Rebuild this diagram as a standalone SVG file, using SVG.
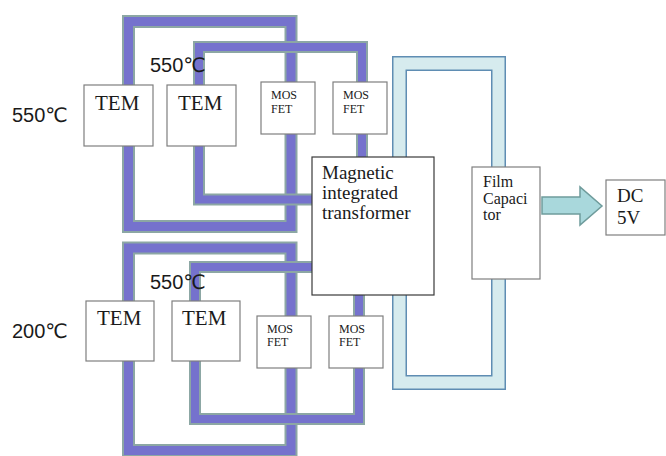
<svg xmlns="http://www.w3.org/2000/svg" width="666" height="456" viewBox="0 0 666 456">
<style>
.o{fill:none;stroke:#8ca7a4;stroke-width:13}
.p{fill:none;stroke:#7572cd;stroke-width:9}
.bo{fill:none;stroke:#5f8db3;stroke-width:15}
.bi{fill:none;stroke:#d6ebee;stroke-width:12}
.box{fill:#fff;stroke:#7f7f7f;stroke-width:1.2}
.dark{fill:#fff;stroke:#3a3a3a;stroke-width:1.2}
.s{font-family:"Liberation Serif","Times New Roman",serif;fill:#1a1a1a}
.t{font-family:"Liberation Sans","DejaVu Sans","Noto Sans CJK JP",sans-serif;font-size:20px;fill:#1a1a1a}
.tem{font-size:21px}
.mos{font-size:12px}
.big{font-size:19px}
.fc{font-size:16px}
</style>
<rect width="666" height="456" fill="#fff"/>
<g id="connectors">
<path class="o" d="M128.5,21.5H291V226.5H128.5Z"/>
<path class="p" d="M128.5,21.5H291V226.5H128.5Z"/>
<path class="o" style="stroke-width:12" d="M362,157V47H199V199.5H312"/>
<path class="p" style="stroke-width:8" d="M362,157V47H199V199.5H312"/>
<path class="o" d="M128.5,248H291V450.5H128.5Z"/>
<path class="p" d="M128.5,248H291V450.5H128.5Z"/>
<path class="o" style="stroke-width:12" d="M312,267H195V419H359V295"/>
<path class="p" style="stroke-width:8" d="M312,267H195V419H359V295"/>
<path class="bo" d="M399.5,157V63.5H498.5V167"/>
<path class="bi" d="M399.5,157V63.5H498.5V167"/>
<path class="bo" d="M399.5,295V382.5H498.5V279"/>
<path class="bi" d="M399.5,295V382.5H498.5V279"/>
<path id="arrow" d="M542,197H580V187L602,206L580,225V214H542Z" fill="#a9d8dc" stroke="#6f9c9c" stroke-width="1.5" stroke-linejoin="miter"/>
</g>
<g id="labels">
<text class="t" x="12" y="122">550℃</text>
<text class="t" x="150" y="72">550℃</text>
<text class="t" x="150" y="289">550℃</text>
<text class="t" x="12" y="338">200℃</text>
</g>
<g id="tem1"><rect class="box" x="84" y="85" width="69" height="61"/><text class="s tem" x="95" y="110">TEM</text></g>
<g id="tem2"><rect class="box" x="167" y="85" width="69" height="61"/><text class="s tem" x="178" y="110">TEM</text></g>
<g id="mosfet1"><rect class="box" x="261" y="82" width="54" height="52"/><text class="s mos" x="271" y="99">MOS</text><text class="s mos" x="271" y="112.5">FET</text></g>
<g id="mosfet2"><rect class="box" x="333" y="82" width="54" height="52"/><text class="s mos" x="343" y="99">MOS</text><text class="s mos" x="343" y="112.5">FET</text></g>
<g id="transformer"><rect class="dark" x="312" y="157" width="122" height="138"/><text class="s big" x="322" y="179">Magnetic</text><text class="s big" x="322" y="199">integrated</text><text class="s big" x="322" y="219">transformer</text></g>
<g id="capacitor"><rect class="box" x="472" y="167" width="68" height="112"/><text class="s fc" x="483" y="187">Film</text><text class="s fc" x="483" y="204">Capaci</text><text class="s fc" x="483" y="220">tor</text></g>
<g id="dc"><rect class="box" x="606" y="180" width="59" height="55"/><text class="s big" x="617" y="202">DC</text><text class="s big" x="617" y="224">5V</text></g>
<g id="tem3"><rect class="box" x="86" y="301" width="68" height="60"/><text class="s tem" x="97" y="325">TEM</text></g>
<g id="tem4"><rect class="box" x="172" y="301" width="68" height="60"/><text class="s tem" x="182" y="325">TEM</text></g>
<g id="mosfet3"><rect class="box" x="257" y="316" width="54" height="52"/><text class="s mos" x="267" y="333">MOS</text><text class="s mos" x="267" y="346">FET</text></g>
<g id="mosfet4"><rect class="box" x="329" y="316" width="54" height="52"/><text class="s mos" x="339" y="333">MOS</text><text class="s mos" x="339" y="346">FET</text></g>
</svg>
